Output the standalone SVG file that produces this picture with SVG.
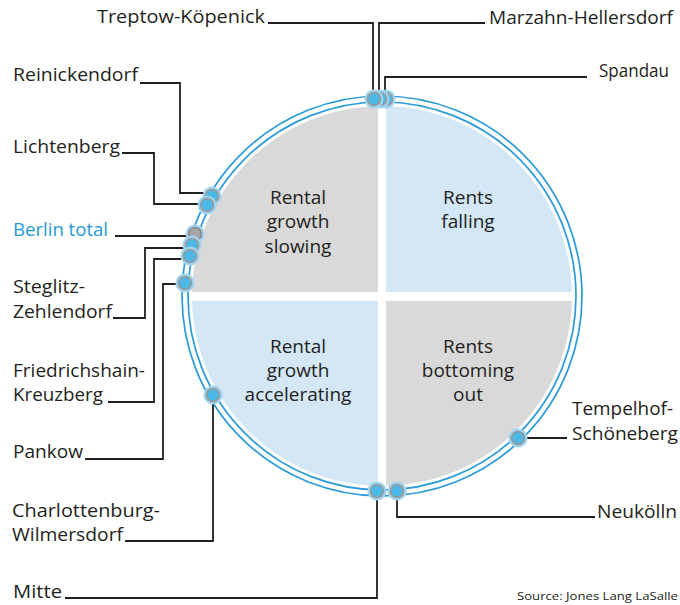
<svg xmlns="http://www.w3.org/2000/svg" width="680" height="605" viewBox="0 0 680 605">
<style>
.lbl{font-family:"Open Sans","Liberation Sans",sans-serif;font-size:19px;fill:#231f20}
.q{font-family:"Open Sans","Liberation Sans",sans-serif;font-size:19px;fill:#231f20;text-anchor:middle}
.src{font-family:"Open Sans","Liberation Sans",sans-serif;font-size:11px;fill:#231f20}
.ring{fill:none;stroke:#2a9bd8;stroke-width:1.7}
.conn{fill:none;stroke:#231f20;stroke-width:1.8}
.halo{fill:#9fd5f2}
.dot{fill:#4bb8e6;stroke:#9a9a9a;stroke-width:1.7}
.dotg{fill:#a6a6a6;stroke:#8c8c8c;stroke-width:1.7}
</style>
<defs>
<g id="mk"><circle class="halo" r="9.5"/><circle class="dot" r="6.5"/></g>
<g id="mkg"><circle class="halo" r="9.5"/><circle class="dotg" r="6.5"/></g>
</defs>
<rect width="680" height="605" fill="#fff"/>
<g id="quadrants">
<path d="M382,296 L192,296 A190,190 0 0 1 382,106 Z" fill="#d9d9d9"/>
<path d="M382,296 L382,106 A190,190 0 0 1 572,296 Z" fill="#d3e7f6"/>
<path d="M382,296 L572,296 A190,190 0 0 1 382,486 Z" fill="#d9d9d9"/>
<path d="M382,296 L382,486 A190,190 0 0 1 192,296 Z" fill="#d3e7f6"/>
<rect x="378" y="100" width="8" height="392" fill="#fff"/>
<rect x="186" y="292" width="392" height="9" fill="#fff"/>
<circle class="ring" cx="382" cy="296" r="194"/>
<circle class="ring" cx="382" cy="296" r="200"/>
<text class="q" x="298" y="204">Rental</text>
<text class="q" x="298" y="228">growth</text>
<text class="q" x="298" y="253">slowing</text>
<text class="q" x="468" y="204">Rents</text>
<text class="q" x="468" y="228">falling</text>
<text class="q" x="298" y="353">Rental</text>
<text class="q" x="298" y="377">growth</text>
<text class="q" x="298" y="401">accelerating</text>
<text class="q" x="468" y="353">Rents</text>
<text class="q" x="468" y="377">bottoming</text>
<text class="q" x="468" y="401">out</text>
</g>
<g id="connectors">
<polyline class="conn" points="268,23 373,23 373,95"/>
<polyline class="conn" points="485,23 379,23 379,95"/>
<polyline class="conn" points="587,77 385,77 385,95"/>
<polyline class="conn" points="140,83 180,83 180,193 204,193"/>
<polyline class="conn" points="122,153 154,153 154,204 200,204"/>
<polyline class="conn" points="115,236 190,236"/>
<polyline class="conn" points="113,318 145,318 145,248 186,248"/>
<polyline class="conn" points="108,402 154,402 154,259 183,259"/>
<polyline class="conn" points="85,459 163,459 163,284 178,284"/>
<polyline class="conn" points="125,541 213,541 213,402"/>
<polyline class="conn" points="65,598 377,598 377,498"/>
<polyline class="conn" points="397,498 397,517 595,517"/>
<polyline class="conn" points="526,438 567,438"/>
</g>
<g id="n-spandau"><use href="#mk" x="386" y="99"/><text class="lbl" x="599" y="77" textLength="70" lengthAdjust="spacingAndGlyphs">Spandau</text></g>
<g id="n-marzahn"><use href="#mk" x="380" y="99"/><text class="lbl" x="489" y="24" textLength="184" lengthAdjust="spacingAndGlyphs">Marzahn-Hellersdorf</text></g>
<g id="n-treptow"><use href="#mk" x="374" y="99"/><text class="lbl" x="97" y="23" textLength="168" lengthAdjust="spacingAndGlyphs">Treptow-Köpenick</text></g>
<g id="n-reinickendorf"><use href="#mk" x="212" y="196"/><text class="lbl" x="13" y="81" textLength="125" lengthAdjust="spacingAndGlyphs">Reinickendorf</text></g>
<g id="n-lichtenberg"><use href="#mk" x="207" y="205"/><text class="lbl" x="13" y="153" textLength="107" lengthAdjust="spacingAndGlyphs">Lichtenberg</text></g>
<g id="n-berlin"><use href="#mkg" x="195" y="234"/><text class="lbl" x="13" y="236" textLength="95" lengthAdjust="spacingAndGlyphs" style="fill:#1f9ad6">Berlin total</text></g>
<g id="n-steglitz"><use href="#mk" x="192" y="245"/><text class="lbl" x="13" y="293" textLength="72" lengthAdjust="spacingAndGlyphs">Steglitz-</text><text class="lbl" x="13" y="318" textLength="99" lengthAdjust="spacingAndGlyphs">Zehlendorf</text></g>
<g id="n-friedrichshain"><use href="#mk" x="190" y="256"/><text class="lbl" x="13" y="377" textLength="132" lengthAdjust="spacingAndGlyphs">Friedrichshain-</text><text class="lbl" x="13" y="401" textLength="90" lengthAdjust="spacingAndGlyphs">Kreuzberg</text></g>
<g id="n-pankow"><use href="#mk" x="185" y="283"/><text class="lbl" x="13" y="458" textLength="70" lengthAdjust="spacingAndGlyphs">Pankow</text></g>
<g id="n-charlottenburg"><use href="#mk" x="213" y="395"/><text class="lbl" x="12" y="517" textLength="148" lengthAdjust="spacingAndGlyphs">Charlottenburg-</text><text class="lbl" x="12" y="541" textLength="111" lengthAdjust="spacingAndGlyphs">Wilmersdorf</text></g>
<g id="n-mitte"><use href="#mk" x="377" y="491"/><text class="lbl" x="13" y="598" textLength="49" lengthAdjust="spacingAndGlyphs">Mitte</text></g>
<g id="n-neukoelln"><use href="#mk" x="397" y="491"/><text class="lbl" x="597" y="518" textLength="80" lengthAdjust="spacingAndGlyphs">Neukölln</text></g>
<g id="n-tempelhof"><use href="#mk" x="518" y="438"/><text class="lbl" x="572" y="415" textLength="101" lengthAdjust="spacingAndGlyphs">Tempelhof-</text><text class="lbl" x="572" y="440" textLength="106" lengthAdjust="spacingAndGlyphs">Schöneberg</text></g>
<text class="src" x="517" y="600" textLength="161" lengthAdjust="spacingAndGlyphs">Source: Jones Lang LaSalle</text>
</svg>
